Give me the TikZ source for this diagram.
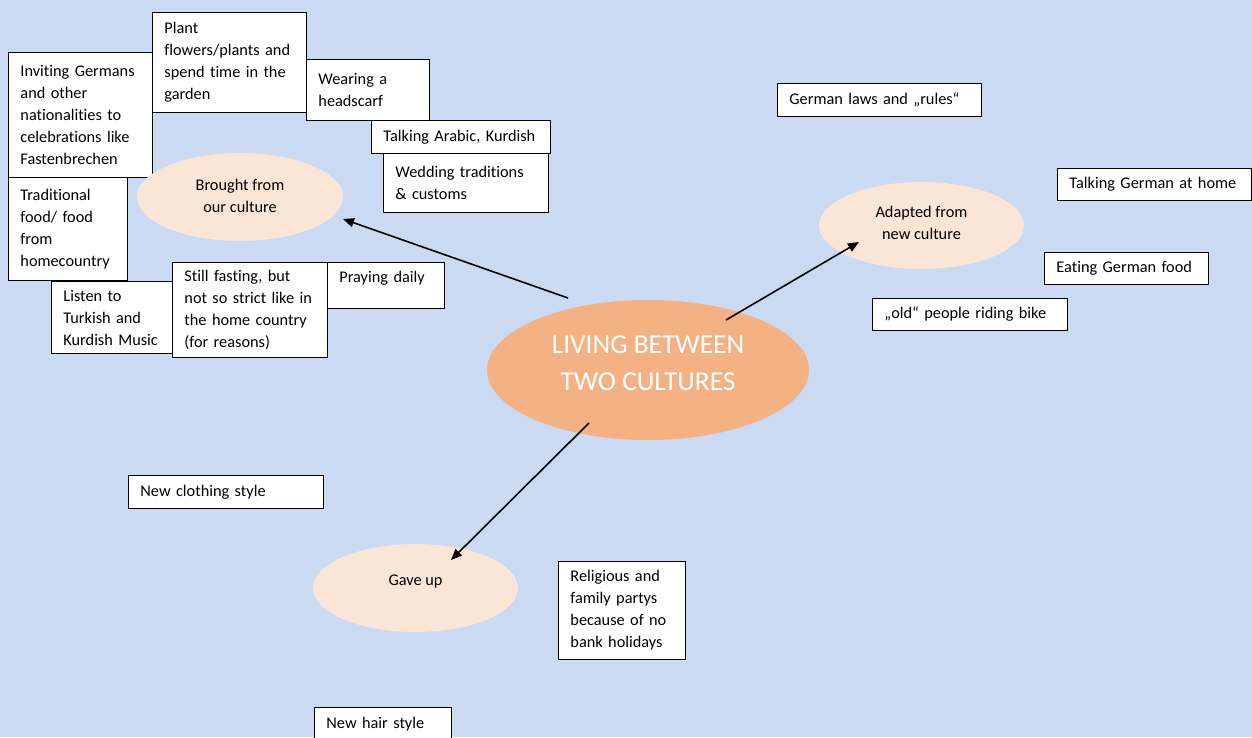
\documentclass[tikz,border=0pt]{standalone}
\usepackage{fontspec}
\setmainfont{Carlito}[Ligatures=CommonOff]
\usetikzlibrary{shapes.geometric,arrows.meta}
\definecolor{bgblue}{HTML}{C9DAF2}
\definecolor{mainorange}{HTML}{F4B183}
\definecolor{subpeach}{HTML}{FBE5D6}
\begin{document}
\begin{tikzpicture}[x=1pt,y=-1pt,
  txtfont/.style={font=\fontsize{16.3}{22}\selectfont},
  box/.style={draw=black, line width=0.9pt, fill=white, anchor=north west,
    inner xsep=12pt, inner ysep=0pt, align=left, txtfont},
  bx/.style n args={3}{minimum width=#1pt, text width=#2pt, minimum height=#3pt},
  ell/.style={ellipse, inner sep=0pt, align=center},
  subell/.style={ell, fill=subpeach, txtfont},
  arr/.style={line width=1.6pt, -{Triangle[length=11pt,width=9pt]}}]
\useasboundingbox (0,0) rectangle (1252,737);
\fill[bgblue] (0,0) rectangle (1252,737);

% boxes, left cluster
\node[box, bx={144}{120}{125}] (inv) at (8,52)
  {\mbox{Inviting Germans}\\\mbox{and other}\\\mbox{nationalities to}\\\mbox{celebrations like}\\\mbox{Fastenbrechen}};
\node[box, bx={154}{130}{100}] (pf) at (152,12)
  {\mbox{Plant}\\\mbox{flowers/plants and}\\\mbox{spend time in the}\\\mbox{garden}};
\node[box, bx={123}{99}{61}] (wh) at (306,59)
  {\mbox{Wearing a}\\\mbox{headscarf}};
\node[box, bx={179}{155}{33}] (ta) at (371,120)
  {\mbox{Talking Arabic, Kurdish}};
\node[box, bx={165}{141}{59}] (wt) at (383,153)
  {\mbox{Wedding traditions}\\\mbox{\& customs}};
\node[box, bx={119}{95}{103}] (tf) at (8,177)
  {\mbox{Traditional}\\\mbox{food/ food}\\\mbox{from}\\\mbox{homecountry}};
\node[box, bx={121}{97}{72}] (lt) at (51,281)
  {\mbox{Listen to}\\\mbox{Turkish and}\\\mbox{Kurdish Music}};
\node[box, bx={155}{131}{95}] (sf) at (172,262)
  {\mbox{Still fasting, but}\\\mbox{not so strict like in}\\\mbox{the home country}\\\mbox{(for reasons)}};
\node[box, bx={117}{93}{46}, text depth=17.5pt] (pd) at (327,262)
  {\mbox{Praying daily}};

% boxes, right cluster
\node[box, bx={204}{180}{33}] (gl) at (777,83)
  {\mbox{German laws and „rules“}};
\node[box, bx={194}{170}{32}] (tg) at (1057,168)
  {\mbox{Talking German at home}};
\node[box, bx={164}{140}{32}] (eg) at (1044,252)
  {\mbox{Eating German food}};
\node[box, bx={195}{171}{32}] (op) at (872,298)
  {\mbox{„old“ people riding bike}};

% boxes, bottom cluster
\node[box, bx={195}{171}{33}] (nc) at (128,475)
  {\mbox{New clothing style}};
\node[box, bx={127}{103}{98}] (rf) at (558,561)
  {\mbox{Religious and}\\\mbox{family partys}\\\mbox{because of no}\\\mbox{bank holidays}};
\node[box, bx={137}{113}{33}] (nh) at (314,707)
  {\mbox{New hair style}};

% ellipses
\node[subell, minimum width=206pt, minimum height=88pt, text depth=3pt] (b) at (240,197)
  {Brought from\\our culture};
\node[subell, minimum width=205pt, minimum height=87pt, text depth=5pt] (a) at (921.5,225.5)
  {Adapted from\\new culture};
\node[subell, minimum width=205pt, minimum height=88pt, text depth=15pt] (g) at (415.5,588)
  {Gave up};
\node[ell, fill=mainorange, text=white, font=\fontsize{27.4}{37}\selectfont,
  minimum width=322pt, minimum height=140pt, text depth=14pt] (c) at (648,370)
  {LIVING BETWEEN\\TWO CULTURES};

% arrows
\draw[arr] ([shift={(-80,-72)}]c.center) -- ([shift={(103,22)}]b.center);
\draw[arr] ([shift={(78,-50)}]c.center) -- ([shift={(-62.5,16.5)}]a.center);
\draw[arr] ([shift={(-59,53)}]c.center) -- ([shift={(35.5,-28)}]g.center);
\end{tikzpicture}
\end{document}
